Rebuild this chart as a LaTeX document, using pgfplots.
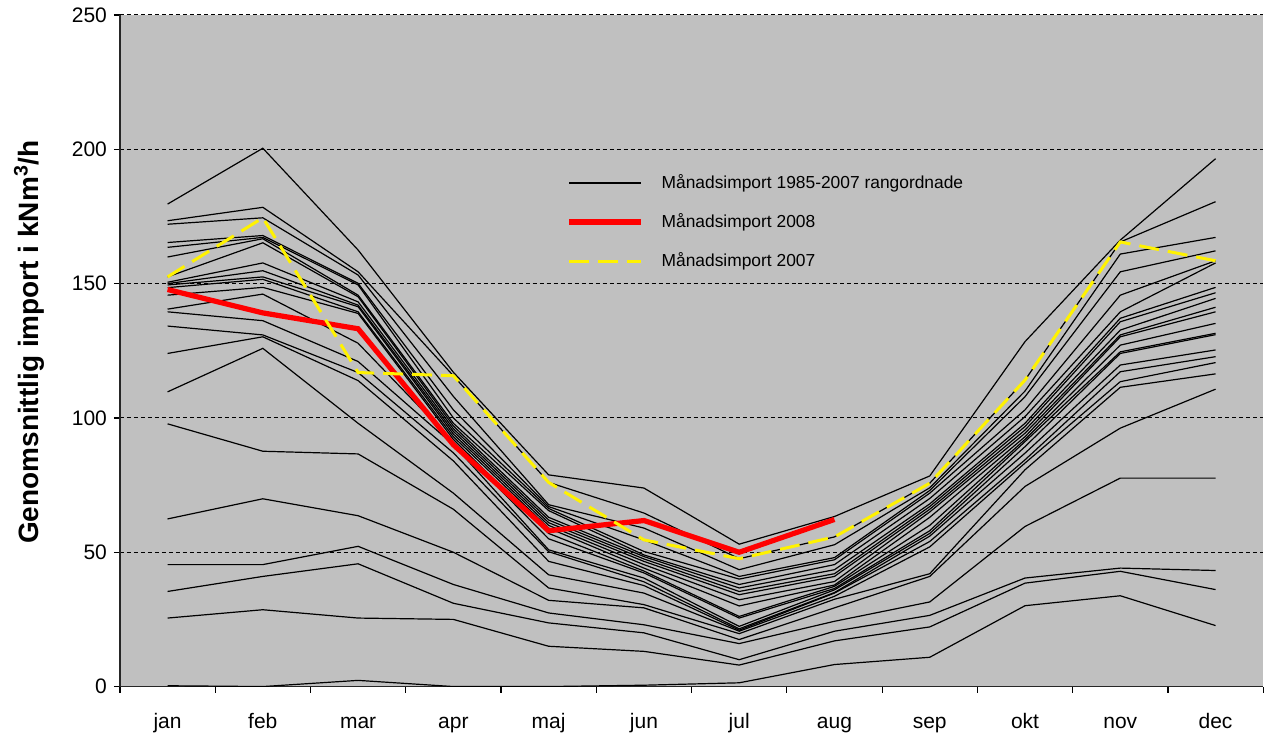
\documentclass[border=0pt]{standalone}
\usepackage{pgfplots}
\pgfplotsset{compat=1.18}
\usepackage{pgfplotstable}
\usepackage{fontspec}
\setmainfont{Liberation Sans}
\definecolor{plotbg}{RGB}{192,192,192}

\pgfplotstableread{
m r1 r2 r3 r4 r5 r6 r7 r8 r9 r10 r11 r12 r13 r14 r15 r16 r17 r18 r19 r20 r21 r22 r23
1 179.6 173.4 172.1 165.3 163.5 159.9 152.5 150.5 150.0 149.5 148.5 145.7 140.5 139.5 134.2 124.0 109.7 97.8 62.4 45.4 35.4 25.5 0.3
2 200.4 178.4 174.5 167.9 167.2 166.7 165.2 157.7 154.8 152.5 151.6 148.6 146.1 136.2 130.9 130.2 125.9 87.6 69.9 45.4 41.0 28.6 0.0
3 162.5 154.4 153.2 150.1 149.5 145.7 145.1 143.2 142.0 141.4 139.5 138.9 127.8 121.0 116.9 113.9 98.0 86.6 63.6 52.2 45.7 25.5 2.3
4 117.0 115.7 108.0 103.0 100.0 98.0 97.0 96.0 95.0 94.0 93.0 92.0 91.0 90.0 87.0 84.0 72.0 66.0 50.0 38.0 31.0 25.0 0.0
5 78.8 76.0 67.7 67.0 66.3 65.5 63.0 62.0 61.0 60.0 59.0 57.0 55.0 50.9 50.2 46.6 41.6 36.7 32.1 27.4 23.7 15.0 0.0
6 73.9 64.6 59.0 54.6 50.3 49.0 48.4 47.5 46.6 45.4 44.1 43.0 42.3 40.4 39.0 37.6 34.8 30.5 29.3 23.0 20.0 13.1 0.5
7 53.0 47.6 43.5 41.0 40.0 38.0 36.7 35.4 34.2 32.3 30.0 26.1 25.5 22.4 21.5 21.0 20.6 19.7 17.5 16.0 10.0 8.0 1.4
8 63.3 55.7 52.8 48.0 47.2 45.4 43.5 42.0 41.0 39.1 37.8 37.3 36.5 36.0 35.0 34.8 33.6 32.5 29.3 24.3 20.6 17.0 8.2
9 78.4 75.7 74.0 73.0 72.0 70.0 68.0 67.0 66.0 65.0 63.0 60.0 58.0 57.0 56.0 54.0 52.0 42.0 41.0 31.5 26.5 22.2 10.9
10 128.4 114.1 110.0 107.9 103.0 100.5 98.0 96.8 95.5 94.3 93.0 92.0 91.2 89.3 86.9 84.4 83.2 80.7 74.5 59.6 40.4 38.5 30.1
11 166.2 165.5 161.0 154.4 145.7 139.5 137.1 135.8 132.7 130.9 130.2 127.1 124.6 124.0 119.7 117.2 113.5 111.4 96.2 77.6 44.1 42.9 33.8
12 196.5 180.5 167.2 162.2 158.5 157.7 148.6 146.6 144.5 141.2 139.5 135.2 131.5 131.0 125.3 122.8 120.6 116.4 110.7 77.6 43.2 36.1 22.7
}\ranked

\pgfplotstableread{
m v
1 147.8
2 139.1
3 133.2
4 90.0
5 58.0
6 61.8
7 50.0
8 62.2
}\yeareight

\pgfplotstableread{
m v
1 152.5
2 174.5
3 116.9
4 115.7
5 76.0
6 54.6
7 47.6
8 55.7
9 75.7
10 114.1
11 165.5
12 158.5
}\yearseven

\begin{document}
\begin{tikzpicture}
\begin{axis}[
  scale only axis, width=572pt, height=336pt,
  xmin=0.5, xmax=12.5, ymin=0, ymax=250,
  axis background/.style={fill=plotbg},
  axis lines=left,
  axis line style={-, line width=0.8pt, black!85},
  xtick={0.5,1.5,...,12.5},
  x tick label as interval,
  xticklabels={jan,feb,mar,apr,maj,jun,jul,aug,sep,okt,nov,dec},
  ytick={0,50,...,250},
  tick align=outside,
  major tick length=3pt,
  tick style={black, line width=0.6pt},
  ymajorgrids,
  grid style={black, dash pattern=on 2pt off 1.5pt, line width=0.5pt},
  tick label style={font=\fontsize{10.5}{12}\selectfont},
  xticklabel style={yshift=-6pt, text height=1.6ex, text depth=0.4ex},
  /pgf/number format/assume math mode=true,
  ylabel={\textbf{Genomsnittlig import i kNm\textsuperscript{3}/h}},
  ylabel style={font=\fontsize{14}{16}\selectfont, at={(axis description cs:-0.0795,0.513)}, anchor=center},
  legend cell align=left,
  legend style={at={(0.385,0.775)}, anchor=north west, draw=none, fill=none,
    font=\fontsize{8.7}{10}\selectfont, row sep=7pt,
    /tikz/every odd column/.append style={column sep=7pt}},
  legend image code/.code={\draw[#1] (0pt,0pt) -- (36pt,0pt);},
]
\coordinate (bl) at (rel axis cs:0,0);
\coordinate (tr) at (rel axis cs:1,1);
\pgfplotsinvokeforeach{1,...,23}{
  \addplot[black, line width=0.6pt, forget plot] table[x=m, y=r#1]{\ranked};
}
\addlegendimage{black, line width=0.6pt}
\addlegendentry{Månadsimport 1985-2007 rangordnade}
\addplot[red, line width=2.6pt] table[x=m, y=v]{\yeareight};
\addlegendentry{Månadsimport 2008}
\addplot[yellow, line width=1.5pt, dash pattern=on 10pt off 4.5pt] table[x=m, y=v]{\yearseven};
\addlegendentry{Månadsimport 2007}
\end{axis}
\path ([xshift=-60pt, yshift=-23.5pt]bl) rectangle ([yshift=7.5pt]tr);
\end{tikzpicture}
\end{document}
